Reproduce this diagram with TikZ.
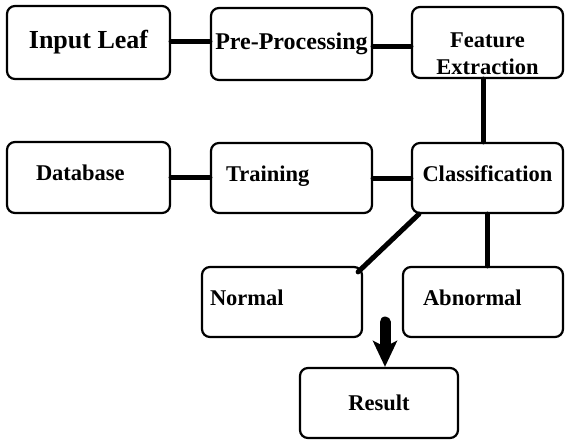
\documentclass[tikz,border=0pt]{standalone}
\usepackage{fontspec}
\setmainfont{Liberation Serif}
\usepackage{tikz}
\usetikzlibrary{arrows.meta}

\begin{document}
\begin{tikzpicture}[x=1pt,y=-1pt,>={Stealth[length=26pt,width=24pt,inset=6pt]},
	blk/.style={draw,line width=2.2pt,rounded corners=8pt,inner sep=0pt,font=\fontsize{22.5}{27}\selectfont\bfseries},
	conn/.style={line width=5pt,line cap=round}]
			\useasboundingbox (0,0) rectangle (566,440);
			\node[blk,minimum width=163pt,minimum height=73pt,font=\fontsize{26}{30}\selectfont\bfseries] (inleaf) at (88.5,42.5) {Input Leaf};
			\node[blk,minimum width=161pt,minimum height=72pt,font=\fontsize{24}{28}\selectfont\bfseries] (preproc) at (291.5,44) {Pre-Processing};
			\node[blk,minimum width=151pt,minimum height=71pt,align=center,text height=63pt,text depth=0pt,inner ysep=4pt] (featext) at (487.5,42.5) {Feature\\Extraction};
			\node[blk,minimum height=71pt,text width=105pt,inner xsep=29pt,align=left,text depth=10pt] (database) at (88.5,177.5) {Database};
			\node[blk,minimum height=70pt,text width=131pt,inner xsep=15pt,align=left,text depth=8pt] (training) at (291.5,178) {Training};
			\node[blk,minimum width=151pt,minimum height=70pt,text depth=8pt] (classif) at (487.5,178) {Classification};
			\node[blk,minimum height=70pt,text width=144pt,inner xsep=8pt,align=left,text depth=8pt] (normal) at (282,302) {Normal};
			\node[blk,minimum height=70pt,text width=120pt,inner xsep=20pt,align=left,text depth=8pt] (abnormal) at (483,302) {Abnormal};
			\node[blk,minimum width=158pt,minimum height=70pt] (result) at (379,403) {Result};
			\draw[conn] ([yshift=1.5pt]inleaf.east) -- ([yshift=1.5pt]inleaf.east -| preproc.west);
			\draw[conn] ([yshift=-2pt]preproc.east) -- ([yshift=-2pt]preproc.east -| featext.west);
			\draw[conn] ([xshift=-4.5pt]featext.south) -- ([xshift=-4.5pt]featext.south |- classif.north);
			\draw[conn] (database.east) -- (database.east -| training.west);
			\draw[conn] (training.east) -- (training.east -| classif.west);
			\draw[conn] ([xshift=8pt]classif.south west) -- ([shift={(-5pt,-6pt)}]normal.north east);
			\draw[conn] (classif.south) -- (classif.south |- abnormal.north);
			\coordinate (arrtop) at (385,322);
			\draw[->,line width=11pt,line cap=round] (arrtop) -- (arrtop |- result.north);
		\end{tikzpicture}
\end{document}
